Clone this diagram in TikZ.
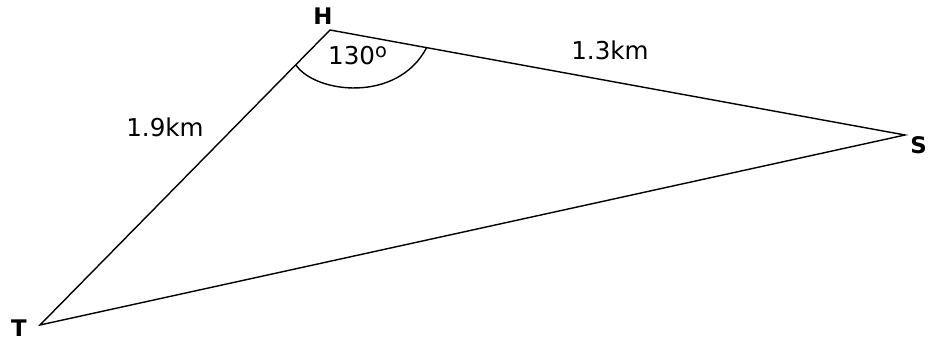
\documentclass[tikz,border=0pt]{standalone}
\usepackage{fontspec}
\setmainfont{DejaVu Sans}
\usetikzlibrary{calc}
\tikzset{
  side/.style={black, line width=0.8pt},
  vlab/.style={font=\fontsize{13}{15}\selectfont\bfseries, text=black},
  dlab/.style={font=\fontsize{14}{16}\selectfont, text=black},
  ang/.style={black, line width=0.8pt},
}
\begin{document}
\begin{tikzpicture}
  \useasboundingbox (0,0) rectangle (18.56,6.82);
  % vertices
  \coordinate (H) at (6.6,6.22);
  \coordinate (T) at (0.8,0.32);
  \coordinate (S) at (18.1,4.12);
  \node[vlab] (hl) at (6.46,6.5) {H};
  \node[vlab, inner sep=0pt] (tl) at (0.38,0.26) {T};
  \node[vlab, anchor=west, inner sep=0pt] (sl) at (18.2,3.92) {S};
  % sides
  \draw[side] (T) -- (H) -- (S) -- cycle;
  % angle at H
  \coordinate (a1) at ($(H)!0.118!(T)$);
  \coordinate (a2) at ($(H)!0.168!(S)$);
  \draw[ang] (a1) .. controls (6.3,4.95) and (7.95,4.75) .. (a2);
  \node[dlab] (angl) at (7.15,5.7) {130\raisebox{0.55ex}{\fontsize{11}{12}\selectfont o}};
  % lengths
  \node[dlab] (ht) at (3.3,4.28) {1.9km};
  \node[dlab] (hs) at (12.2,5.82) {1.3km};
\end{tikzpicture}
\end{document}
